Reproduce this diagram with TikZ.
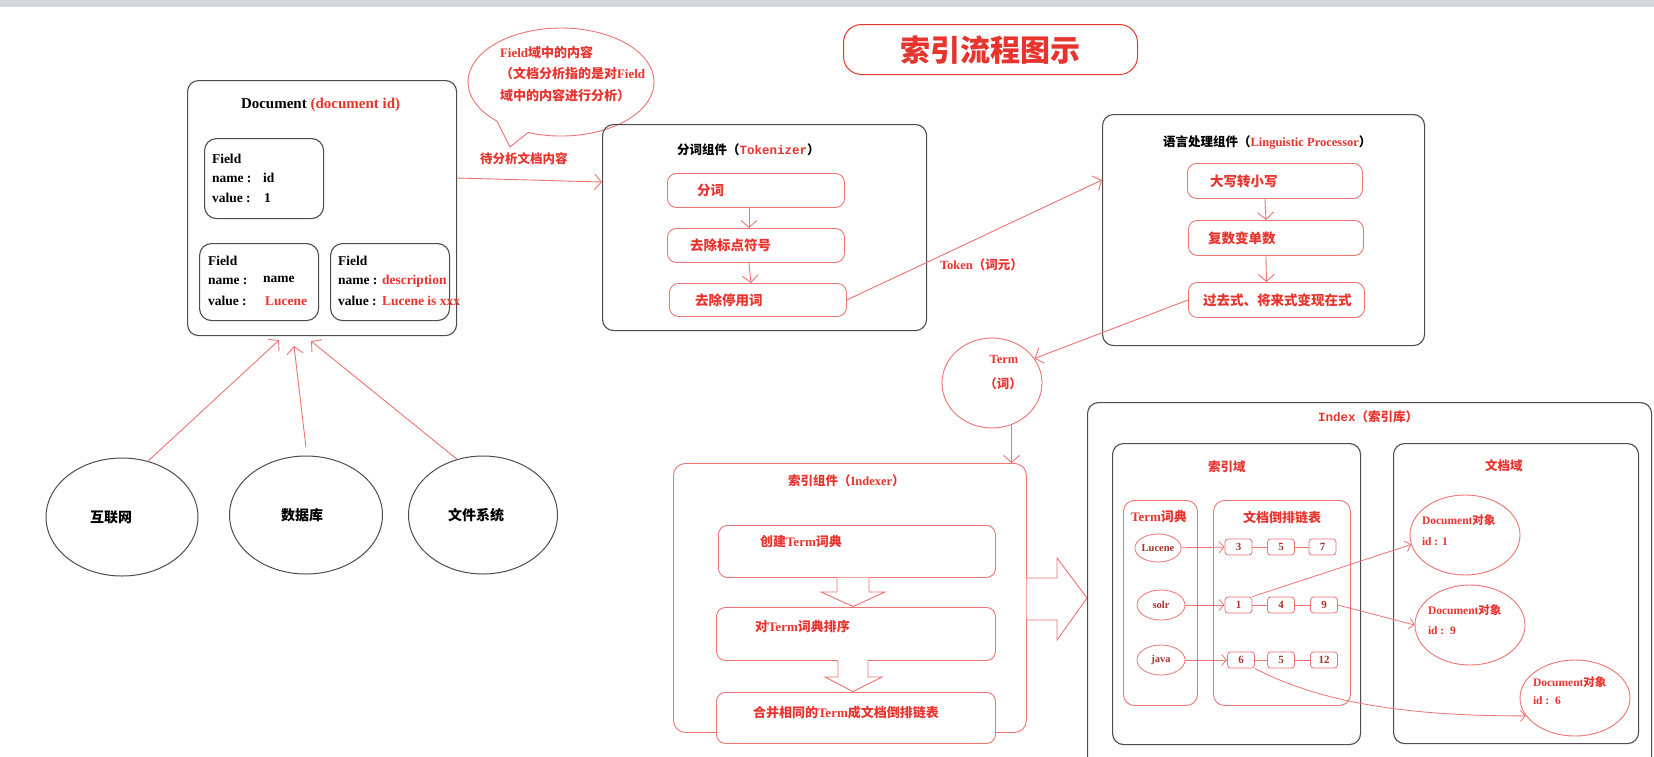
\documentclass[tikz,border=0pt]{standalone}
\usepackage{fontspec}
\setmainfont{Liberation Serif}
\newfontfamily\cjk{Noto Sans CJK SC}
\newfontfamily\monof{Liberation Mono}
\usetikzlibrary{arrows.meta,shapes.geometric}
\definecolor{rtext}{HTML}{E8342F}
\definecolor{rdark}{HTML}{A8322E}
\definecolor{rline}{HTML}{EE7373}
\definecolor{bline}{HTML}{4D4D4D}
\definecolor{topbar}{HTML}{D4D8DD}
\newcommand\zh[1]{{\cjk #1}}
\begin{document}
\begin{tikzpicture}[x=1pt,y=-1pt,
  txt/.style={inner sep=0pt,outer sep=0pt,font=\bfseries\fontsize{12.5}{14}\selectfont},
  rtxt/.style={txt,text=rtext},
  ftxt/.style={txt,font=\bfseries\fontsize{13.5}{15}\selectfont,anchor=base west},
  boxtxt/.style={rtxt,anchor=west,font=\bfseries\fontsize{13.5}{15}\selectfont},
  doctxt/.style={rtxt,anchor=base west,font=\bfseries\fontsize{11.5}{13}\selectfont},
  blackbox/.style={draw=bline,line width=1.1pt,rounded corners=11pt,inner sep=0pt,anchor=north west},
  redbox/.style={draw=rline,line width=0.9pt,rounded corners=9pt,inner sep=0pt,anchor=north west,fill=white},
  numbox/.style={draw=rline,line width=0.8pt,rounded corners=3pt,inner sep=0pt,minimum width=27,minimum height=16,font=\bfseries\fontsize{11}{12}\selectfont,text=rdark},
  termell/.style={ellipse,draw=rline,line width=0.8pt,inner sep=0pt,minimum width=46,minimum height=28,font=\bfseries\fontsize{10.5}{12}\selectfont,text=rdark},
  redell/.style={ellipse,draw=rline,line width=0.9pt,inner sep=0pt},
  srcell/.style={ellipse,draw=bline,line width=1pt,inner sep=0pt,minimum width=152,minimum height=118},
  srctxt/.style={txt,font=\cjk\bfseries\fontsize{14}{16}\selectfont},
  rarrow/.style={draw=rline,line width=0.9pt,-{Straight Barb[length=7pt,width=16pt]}},
  sarrow/.style={draw=rline,line width=0.8pt,-{Straight Barb[length=5pt,width=11pt]}},
  plainred/.style={draw=rline,line width=0.8pt},
  blockarrow/.style={draw=rline,line width=0.9pt,fill=white}
]
\clip (0,0) rectangle (1654,756);
\useasboundingbox (0,0) rectangle (1654,756);
\fill[white] (0,0) rectangle (1654,756);
\fill[topbar] (0,0) rectangle (1654,7);

% title
\node[draw=rtext,line width=1pt,rounded corners=18pt,minimum width=294,minimum height=50,anchor=north west,inner sep=0pt] (titlebox) at (843,24) {};
\node[txt,text=rtext,font=\cjk\bfseries\fontsize{30}{32}\selectfont] (title) at (990,50) {索引流程图示};

% document box
\node[blackbox,minimum width=269,minimum height=255] (doc) at (187,80) {};
\node[txt,anchor=base west,font=\bfseries\fontsize{15}{17}\selectfont] (doctitle) at (241,108) {Document \textcolor{rtext}{(document id)}};
\node[blackbox,rounded corners=12pt,minimum width=119,minimum height=80] (f1) at (204,138) {};
\node[ftxt] (f1a) at (212,163) {Field};
\node[ftxt] (f1b) at (212,182) {name :};
\node[ftxt] (f1bv) at (263,182) {id};
\node[ftxt] (f1c) at (212,202) {value :};
\node[ftxt] (f1cv) at (264,202) {1};
\node[blackbox,rounded corners=12pt,minimum width=119,minimum height=77] (f2) at (199,243) {};
\node[ftxt] (f2a) at (208,265) {Field};
\node[ftxt] (f2b) at (208,284) {name :};
\node[ftxt] (f2bv) at (263,282) {name};
\node[ftxt] (f2c) at (208,305) {value :};
\node[ftxt,text=rtext] (f2cv) at (265,305) {Lucene};
\node[blackbox,rounded corners=12pt,minimum width=119,minimum height=77] (f3) at (330,243) {};
\node[ftxt] (f3a) at (338,265) {Field};
\node[ftxt] (f3b) at (338,284) {name :};
\node[ftxt,text=rtext] (f3bv) at (382,284) {description};
\node[ftxt] (f3c) at (338,305) {value :};
\node[ftxt,text=rtext] (f3cv) at (382,305) {Lucene is xxx};

% speech bubble
\draw[draw=rline,line width=0.9pt,fill=white] (528,132.5) arc[start angle=110.8,end angle=-226.5,x radius=93,y radius=54] -- (510,147) -- cycle;
\node[rtxt,anchor=base west,font=\bfseries\fontsize{13}{14}\selectfont] (bub1) at (500,57) {Field\zh{域中的内容}};
\node[rtxt,anchor=base west,font=\bfseries\fontsize{13}{14}\selectfont] (bub2) at (500,78) {\zh{（文档分析指的是对}Field};
\node[rtxt,anchor=base west,font=\bfseries\fontsize{13}{14}\selectfont] (bub3) at (500,100) {\zh{域中的内容进行分析）}};
\node[rtxt,anchor=base west] (waitlbl) at (480,163) {\zh{待分析文档内容}};

% tokenizer
\node[blackbox,minimum width=324,minimum height=206] (tok) at (602,124) {};
\node[txt,anchor=base west] (toktitle) at (677,154) {\zh{分词组件（}\textcolor{rtext}{\monof Tokenizer}\zh{）}};
\node[redbox,minimum width=177,minimum height=34] (t1) at (667,173) {};
\node[redbox,minimum width=177,minimum height=34] (t2) at (667,228) {};
\node[redbox,minimum width=177,minimum height=33] (t3) at (669,283) {};
\node[boxtxt] (t1t) at (697,190) {\zh{分词}};
\node[boxtxt] (t2t) at (690,245) {\zh{去除标点符号}};
\node[boxtxt] (t3t) at (695,300) {\zh{去除停用词}};
\draw[rarrow] ([xshift=-7pt]t1.south) -- ([xshift=-7pt]t2.north);
\draw[rarrow] ([xshift=-7pt]t2.south) -- ([xshift=-7pt]t3.north);
\draw[rarrow] ([yshift=-98pt]doc.north east) -- ([yshift=-58pt]tok.north west);

% linguistic processor
\node[blackbox,minimum width=322,minimum height=231] (lp) at (1102,114) {};
\node[txt,anchor=base west] (lptitle) at (1163,146) {\zh{语言处理组件（}\textcolor{rtext}{Linguistic Processor}\zh{）}};
\node[redbox,minimum width=175,minimum height=35] (l1) at (1187,163) {};
\node[redbox,minimum width=175,minimum height=35] (l2) at (1188,220) {};
\node[redbox,minimum width=176,minimum height=35] (l3) at (1188,282) {};
\node[boxtxt] (l1t) at (1210,181) {\zh{大写转小写}};
\node[boxtxt] (l2t) at (1208,238) {\zh{复数变单数}};
\node[boxtxt] (l3t) at (1203,300) {\zh{过去式、将来式变现在式}};
\draw[rarrow] ([xshift=-10pt]l1.south) -- ([xshift=-10pt]l2.north);
\draw[rarrow] ([xshift=-10pt]l2.south) -- ([xshift=-10pt]l3.north);
\draw[rarrow] (t3.east) -- ([yshift=-66pt]lp.north west);
\node[rtxt,anchor=base west] (tokenlbl) at (940,269) {Token\zh{（词元）}};

% term
\node[redell,minimum width=100,minimum height=90] (term) at (992,383) {};
\node[rtxt,anchor=base] (termt) at (1004,363) {Term};
\node[rtxt,anchor=base] (termc) at (1003,388) {\zh{（词）}};
\draw[rarrow] (l3.west) -- (term.30);

% indexer
\node[redbox,rounded corners=12pt,minimum width=353,minimum height=269] (idx) at (673,463) {};
\draw[rarrow] (term.-65) -- (term.-65 |- idx.north);
\node[rtxt,anchor=base west] (idxtitle) at (788,485) {\zh{索引组件（}Indexer\zh{）}};
\node[redbox,minimum width=277,minimum height=52] (i1) at (718,525) {};
\node[redbox,minimum width=279,minimum height=53] (i2) at (716,607) {};
\node[redbox,minimum width=279,minimum height=51] (i3) at (716,692) {};
\node[rtxt,anchor=base west,font=\bfseries\fontsize{13}{14}\selectfont] (i1t) at (760,546) {\zh{创建}Term\zh{词典}};
\node[rtxt,anchor=base west,font=\bfseries\fontsize{13}{14}\selectfont] (i2t) at (755,631) {\zh{对}Term\zh{词典排序}};
\node[rtxt,anchor=base west,font=\bfseries\fontsize{13}{14}\selectfont] (i3t) at (753,717) {\zh{合并相同的}Term\zh{成文档倒排链表}};
\filldraw[blockarrow] (837,577.5) -- (837,592) -- (821,592) -- (853,606.5) -- (885,592) -- (869,592) -- (869,577.5);
\filldraw[blockarrow] (838,660) -- (838,677) -- (825,677) -- (853,691.5) -- (882,677) -- (868,677) -- (868,660);
\filldraw[blockarrow] (1026.5,578) -- (1057,578) -- (1057,558) -- (1087,598) -- (1057,640) -- (1057,620) -- (1026.5,620);

% index
\node[blackbox,minimum width=564,minimum height=380] (index) at (1087,402) {};
\node[rtxt,anchor=base west] (indext) at (1318,421) {{\monof Index}\zh{（索引库）}};
\node[blackbox,minimum width=248,minimum height=301] (sy) at (1112,443) {};
\node[rtxt,anchor=base west] (syt) at (1208,471) {\zh{索引域}};
\node[redbox,rounded corners=11pt,minimum width=74,minimum height=205] (td) at (1123,500) {};
\node[rtxt,anchor=base west,font=\bfseries\fontsize{13}{14}\selectfont] (tdt) at (1131,521) {Term\zh{词典}};
\node[termell] (luc) at (1158,548) {Lucene};
\node[termell,minimum width=48,minimum height=30] (solr) at (1161,605) {solr};
\node[termell,minimum width=48,minimum height=30] (java) at (1161,660) {java};
\node[redbox,rounded corners=11pt,minimum width=137,minimum height=205] (dl) at (1213,500) {};
\node[rtxt,anchor=base west,font=\bfseries\fontsize{13}{14}\selectfont] (dlt) at (1243,522) {\zh{文档倒排链表}};
\node[numbox] (n13) at (1238.5,547) {3};
\node[numbox] (n15) at (1281,547) {5};
\node[numbox] (n17) at (1322.5,547) {7};
\node[numbox] (n21) at (1238.5,605) {1};
\node[numbox] (n24) at (1281,605) {4};
\node[numbox] (n29) at (1324,605) {9};
\node[numbox] (n36) at (1241,660) {6};
\node[numbox] (n35) at (1281,660) {5};
\node[numbox] (n312) at (1324,660) {12};
\draw[plainred] (n13) -- (n15);
\draw[plainred] (n15) -- (n17);
\draw[plainred] (n21) -- (n24);
\draw[plainred] (n24) -- (n29);
\draw[plainred] (n36) -- (n35);
\draw[plainred] (n35) -- (n312);
\draw[sarrow] (luc) -- (n13);
\draw[sarrow] (solr) -- (n21);
\draw[sarrow] (java) -- (n36);

\node[blackbox,minimum width=245,minimum height=300] (wd) at (1393,443) {};
\node[rtxt,anchor=base west] (wdt) at (1485,470) {\zh{文档域}};
\node[redell,minimum width=110,minimum height=80] (d1) at (1465,535) {};
\node[redell,minimum width=110,minimum height=80] (d2) at (1470,625) {};
\node[redell,minimum width=110,minimum height=76] (d3) at (1575,698) {};
\node[doctxt] (d1a) at (1422,524) {Document\zh{对象}};
\node[doctxt] (d1b) at (1422,545) {id : 1};
\node[doctxt] (d2a) at (1428,614) {Document\zh{对象}};
\node[doctxt] (d2b) at (1428,634) {id :\ \ 9};
\node[doctxt] (d3a) at (1533,686) {Document\zh{对象}};
\node[doctxt] (d3b) at (1533,704) {id :\ \ 6};
\draw[sarrow] (n21.north east) -- (d1.190);
\draw[sarrow] (n29.east) -- (d2.west);
\draw[sarrow] (n36.south east) .. controls (1330,708) and (1430,716) .. (d3.200);

% sources
\node[srcell] (inet) at (122,517) {};
\node[srcell,minimum width=153] (db) at (306,515) {};
\node[srcell,minimum width=149] (fs) at (483,515) {};
\node[srctxt] (inett) at (111,517) {互联网};
\node[srctxt] (dbt) at (302,515) {数据库};
\node[srctxt] (fst) at (476,515) {文件系统};
\coordinate (e1) at ([xshift=-43pt,yshift=-4pt]doc.south);
\coordinate (e2) at ([xshift=-28pt,yshift=-10pt]doc.south);
\coordinate (e3) at ([xshift=-11pt,yshift=-5pt]doc.south);
\draw[rarrow] (inet.65) -- (e1);
\draw[rarrow] ([yshift=8pt]db.north) -- (e2);
\draw[rarrow] (fs.115) -- (e3);
\end{tikzpicture}
\end{document}
